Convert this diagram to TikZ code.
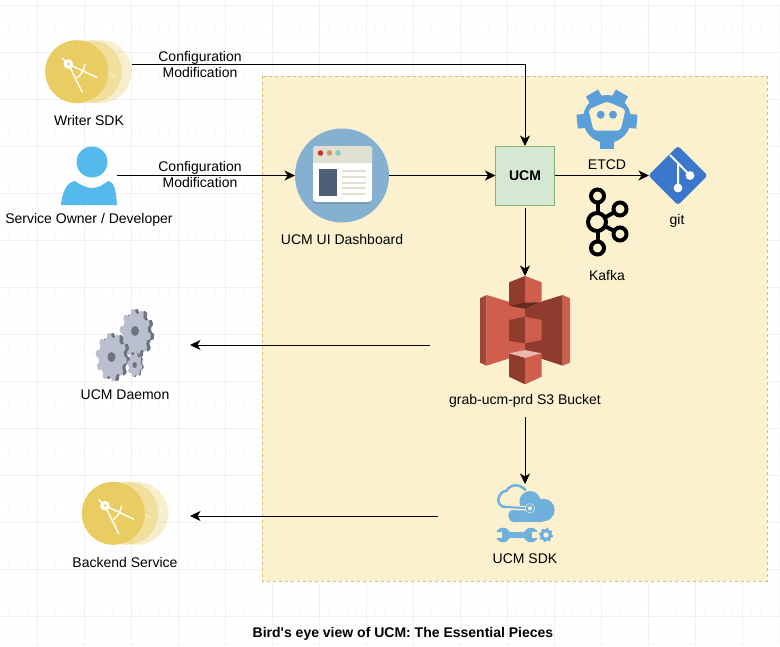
\documentclass[tikz,border=0pt]{standalone}
\usepackage{fontspec}
\setmainfont{Liberation Sans}
\newfontfamily\titlefont{Liberation Sans}
\usetikzlibrary{arrows.meta}

\definecolor{boxfill}{HTML}{FCF1CF}
\definecolor{boxline}{HTML}{D9BD6A}
\definecolor{gridminor}{HTML}{FAFAFA}
\definecolor{gridmajor}{HTML}{F0F0F0}
\definecolor{compass}{HTML}{E9CD62}
\definecolor{person}{HTML}{56B9EC}
\definecolor{dashblue}{HTML}{85B0D0}
\definecolor{dashshade}{HTML}{6F8FAA}
\definecolor{dashpale}{HTML}{E0E0D0}
\definecolor{dashpanel}{HTML}{4F5F75}
\definecolor{etcdblue}{HTML}{5B9FD8}
\definecolor{gitblue}{HTML}{3B78CC}
\definecolor{sdkblue}{HTML}{6FB1DC}
\definecolor{s3light}{HTML}{D05E4C}
\definecolor{s3dark}{HTML}{8F3B2D}
\definecolor{gearface}{HTML}{B9BFCE}
\definecolor{gearedge}{HTML}{6E747C}
\definecolor{ucmfill}{HTML}{D5E8D4}
\definecolor{ucmline}{HTML}{82B366}

% r_x, r_y, teeth
\newcommand{\gearpath}[3]{plot[domain=0:360,samples=145]
	({#1*(0.91+0.09*max(-1,min(1,2*sin(#3*\x))))*cos(\x)},
	 {#2*(0.91+0.09*max(-1,min(1,2*sin(#3*\x))))*sin(\x)}) -- cycle}

\tikzset{
	pics/compassicon/.style={code={
		\fill[compass,opacity=.3] (23.5,0) circle (31.5);
		\fill[compass,opacity=.45] (13.5,0) circle (31.5);
		\draw[white,opacity=.45,line width=1pt] (26,-3) -- (38,5);
		\fill[compass] (0,0) circle (31.5);
		\draw[white,line width=1.4pt] (-14.7,-13.7) -- (-8.4,-7.7) -- (5.6,20.6);
		\draw[white,line width=1.4pt] (-8.4,-7.7) -- (20.6,6);
		\draw[white,line width=1.4pt] (0,6.3) .. controls (5,3) and (7,-2) .. (8.3,-7.7);
		\fill[white] (-8.4,-7.7) circle (4.8);
		\fill[compass] (-8.4,-7.7) circle (1.5);
	}}
}

\begin{document}
\begin{tikzpicture}[
	x=1pt, y=-1pt,
	lbl/.style={font=\fontsize{14}{16}\selectfont, inner sep=0pt, align=center},
	iconbox/.style={minimum width=#1, minimum height=16pt, inner sep=0pt, outer sep=0pt},
	conn/.style={draw=black, line width=1pt, -{Stealth[length=10.5pt,width=10pt,inset=3pt]}},
	cell/.style={draw=#1, line width=.8pt}
]
\useasboundingbox (0,0) rectangle (780,646);
\fill[white] (0,0) rectangle (780,646);

% grid
\foreach \k in {0,...,84} {
	\draw[cell=gridminor] ({-10+9.4*\k},0) -- ({-10+9.4*\k},646);
}
\foreach \k in {0,...,68} {
	\draw[cell=gridminor] (0,{5+9.4*\k}) -- (780,{5+9.4*\k});
}
\foreach \k in {0,...,16} {
	\draw[cell=gridmajor] ({-10+47*\k},0) -- ({-10+47*\k},646);
}
\foreach \k in {0,...,13} {
	\draw[cell=gridmajor] (0,{5+47*\k}) -- (780,{5+47*\k});
}

% container
\draw[boxline, fill=boxfill, line width=1pt, dash pattern=on 3pt off 3pt] (262,76) rectangle (767,581);

% anchors for the icons
\node[iconbox=86pt] (writer) at (89,64) {};
\node[iconbox=56pt] (owner) at (89,175.5) {};
\node[circle, fill=dashblue, minimum size=94pt, inner sep=0pt, outer sep=0pt] (dash) at (342,175.5) {};
\node[draw=ucmline, fill=ucmfill, line width=1pt, minimum size=59pt, inner sep=0pt, outer sep=0pt, font=\fontsize{14}{16}\selectfont\bfseries] (ucm) at (525,175.5) {UCM};
\node[iconbox=58pt] (git) at (678,175.5) {};
\node[iconbox=190pt, minimum height=138pt] (s3) at (525,345) {};
\node[iconbox=174pt, minimum height=64pt] (sdk) at (525,516) {};
\node[iconbox=130pt] (daemon) at (125,345) {};
\node[iconbox=130pt] (backend) at (125,516) {};

% labels
\node[lbl] (writerlbl) at (89,120) {Writer SDK};
\node[lbl] (ownerlbl) at (89,220) {Service Owner / Developer};
\node[lbl] (dashlbl) at (342,239) {UCM UI Dashboard};
\node[lbl] (etcdlbl) at (607,165) {ETCD};
\node[lbl] (gitlbl) at (677,221) {git};
\node[lbl] (kafkalbl) at (607,275) {Kafka};
\node[lbl] (s3lbl) at (525,401) {grab-ucm-prd S3 Bucket};
\node[lbl] (sdklbl) at (525,559) {UCM SDK};
\node[lbl] (daemonlbl) at (125,395) {UCM Daemon};
\node[lbl] (backendlbl) at (125,562) {Backend Service};
\node[lbl] (topcfg) at (200,64) {Configuration\\Modification};
\node[lbl] (midcfg) at (200,174.5) {Configuration\\Modification};
\node[lbl, font=\fontsize{14}{16}\selectfont\titlefont\bfseries] (title) at (403,634) {Bird's eye view of UCM: The Essential Pieces};

% compass icons
\pic at (76.7,71.7) {compassicon};
\pic at (113.3,513.3) {compassicon};

% person
\fill[person] (92,162) circle (15.5);
\fill[person] (61,205) .. controls (62,192) and (67,182) .. (75,181) .. controls (81,185) and (86,188) .. (92,188)
	.. controls (98,188) and (103,185) .. (108,181) .. controls (115,182) and (116,192) .. (117,205) -- cycle;

% dashboard window
\fill[dashshade, rounded corners=3pt] (313,147.5) rectangle (372,203.5);
\fill[white, rounded corners=3pt] (313,146) rectangle (372,202);
\fill[dashpale] (313,163) [rounded corners=3pt] -- (313,146) -- (372,146) [sharp corners] -- (372,163) -- cycle;
\fill[red!60!gray] (320.5,153) circle (2.8);
\fill[orange!60!gray!80!white] (329.5,153) circle (2.8);
\fill[teal!45!white] (338,153) circle (2.8);
\fill[dashpanel] (319,169) rectangle (337,196);
\foreach \y in {171,177,183,188,194} {
	\fill[dashpale] (342,{\y-1}) rectangle (366,{\y+1});
}

% etcd
\begin{scope}[shift={(607,119)}]
	\foreach \a in {30,-30,95,-95,180} {
		\fill[etcdblue, rotate=\a] (-7,-30) rectangle (7,0);
	}
	\fill[etcdblue] (0,0) circle (24);
	\fill[boxfill, rounded corners=3pt] (0,-17.5) -- (18.5,-9.5) -- (13.5,11.5) -- (-13.5,11.5) -- (-18.5,-9.5) -- cycle;
	\fill[etcdblue] (-6.3,-4.3) circle (4);
	\fill[etcdblue] (6,-4.3) circle (4);
\end{scope}

% git
\begin{scope}[shift={(678,175.5)}]
	\fill[gitblue, rotate=45, rounded corners=3pt] (-21,-21) rectangle (21,21);
	\draw[white, line width=2pt] (-8,-20.5) -- (0,-12.5) -- (0,12.5);
	\draw[white, line width=2pt] (0,-12.5) -- (12,0);
	\fill[white] (12,0) circle (4.4);
	\fill[white] (0,12.5) circle (4.4);
\end{scope}

% kafka
\begin{scope}[line width=4pt, black]
	\draw (597.5,202) -- (597.5,242);
	\draw (597,222) -- (620,209);
	\draw (597,222) -- (620,234);
	\draw[fill=boxfill] (597,222) circle (9);
	\draw[fill=boxfill] (597.5,196) circle (6.5);
	\draw[fill=boxfill] (597.5,248) circle (6.5);
	\draw[fill=boxfill] (620,209) circle (6.5);
	\draw[fill=boxfill] (620,234) circle (6.5);
\end{scope}

% s3 bucket
\begin{scope}[shift={(470,265)}, scale=1/3]
	\fill[s3dark!70!s3light] (30,100) -- (50,90) -- (50,302) -- (30,293) -- cycle;
	\fill[s3light] (278,90) -- (300,100) -- (300,293) -- (278,302) -- cycle;
	\fill[s3light] (50,90) -- (165,125) -- (165,265) -- (50,302) -- cycle;
	\fill[s3dark] (278,90) -- (165,125) -- (165,265) -- (278,302) -- cycle;
	\fill[s3dark] (165,33) -- (117,52) -- (117,122) -- (165,130) -- cycle;
	\fill[s3light] (165,33) -- (215,52) -- (215,108) -- (165,130) -- cycle;
	\fill[s3dark!70!black] (122,123) -- (165,113) -- (207,112) -- (165,131) -- cycle;
	\fill[s3dark] (117,165) -- (165,155) -- (165,235) -- (117,228) -- cycle;
	\fill[s3light] (165,155) -- (215,165) -- (215,225) -- (165,235) -- cycle;
	\fill[s3dark] (117,265) -- (165,278) -- (165,358) -- (117,335) -- cycle;
	\fill[s3light] (165,278) -- (215,265) -- (215,335) -- (165,358) -- cycle;
	\fill[s3light!45!white] (117,265) -- (165,255) -- (215,265) -- (165,278) -- cycle;
\end{scope}

% sdk
\begin{scope}[shift={(485,475)}, scale=1/3]
	\draw[sdkblue, line width=2.5pt] (122,46) .. controls (105,25) and (75,27) .. (65,47)
		.. controls (38,50) and (28,92) .. (60,96) -- (135,100);
	\fill[sdkblue] (135,80) circle (32);
	\fill[sdkblue] (175,105) circle (34);
	\fill[sdkblue] (90,122) circle (20);
	\fill[sdkblue] (90,100) rectangle (175,142);
	\draw[boxfill, line width=4.5pt] (62,98) -- (128,100);
	\draw[sdkblue, line width=2pt] (50,95) -- (130,100);
	\fill[boxfill] (135,100) circle (15);
	\draw[sdkblue, line width=2pt] (135,100) circle (10);
	\fill[sdkblue] (54,180) circle (22);
	\fill[sdkblue] (138,180) circle (22);
	\fill[sdkblue] (54,172) rectangle (138,188);
	\fill[boxfill] (28,171) rectangle (50,189);
	\fill[boxfill] (142,171) rectangle (164,189);
	\begin{scope}[shift={(183,180)}]
		\fill[sdkblue] \gearpath{21}{21}{8};
		\fill[boxfill] (0,0) circle (8);
	\end{scope}
\end{scope}

% daemon gears
\begin{scope}[shift={(137,333)}]
	\fill[gearedge, shift={(1.7,0)}] \gearpath{15.5}{24}{10};
	\fill[gearface, shift={(-1.7,0)}] \gearpath{15.5}{24}{10};
	\fill[gearedge] (-2,-2) ellipse (4 and 5);
\end{scope}
\begin{scope}[shift={(113,357)}]
	\fill[gearedge, shift={(1.7,0)}] \gearpath{15.5}{24}{10};
	\fill[gearface, shift={(-1.7,0)}] \gearpath{15.5}{24}{10};
	\fill[gearedge] (-1.5,0) ellipse (4 and 5);
\end{scope}
\begin{scope}[shift={(135.5,365)}]
	\fill[gearedge, shift={(.7,0)}] \gearpath{7.5}{12}{8};
	\fill[gearface, shift={(-.7,0)}] \gearpath{7.5}{12}{8};
	\fill[gearedge] (-.8,0) ellipse (2.2 and 3);
\end{scope}

% connectors
\draw[conn] (writer.east) -| (ucm);
\draw[conn] (owner) -- (dash);
\draw[conn] (dash) -- (ucm);
\draw[conn] (ucm) -- (git);
\draw[conn, shorten <=3pt] (ucm) -- (s3);
\draw[conn, shorten <=3pt] (s3) -- (sdk);
\draw[conn] (s3) -- (daemon);
\draw[conn] (sdk) -- (backend);
\end{tikzpicture}
\end{document}
